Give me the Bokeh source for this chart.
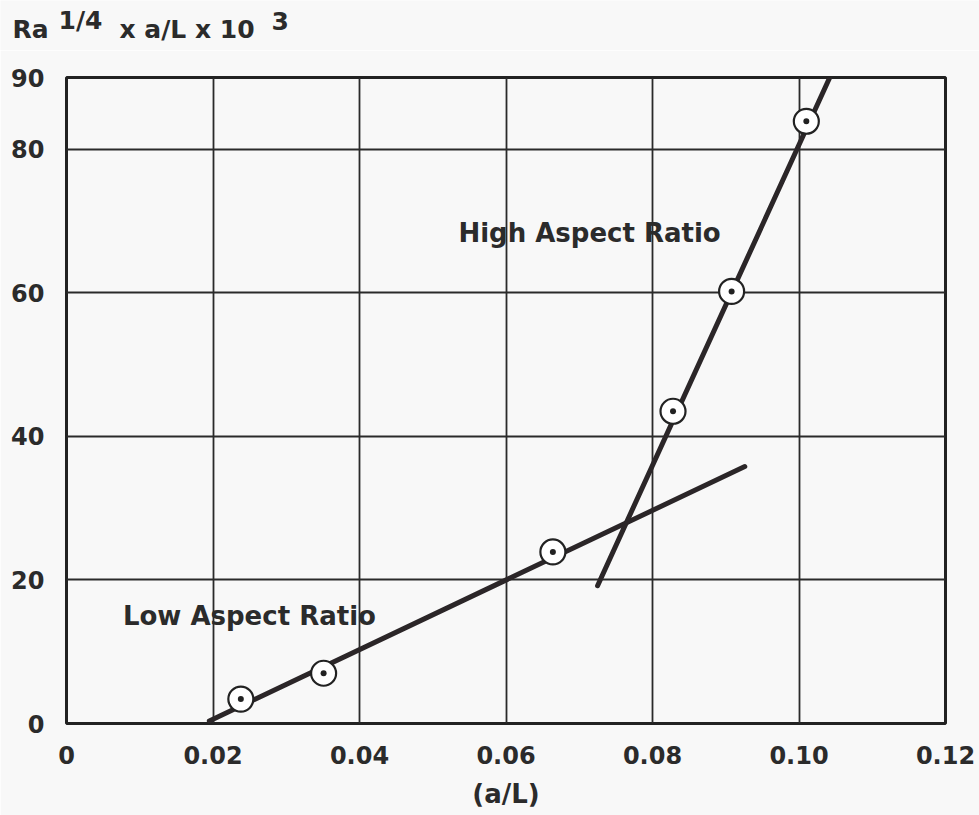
from bokeh.plotting import figure
from bokeh.models import FixedTicker, Label, Range1d
from bokeh.embed import file_html
from bokeh.resources import INLINE

# ---- data ----
pts_x = [0.0238, 0.0351, 0.0664, 0.0828, 0.0908, 0.1010]
pts_y = [3.4, 7.0, 23.9, 43.5, 60.2, 83.9]

low_fit_x = [0.0195, 0.0926]
low_fit_y = [0.35, 35.8]
high_fit_x = [0.0725, 0.1042]
high_fit_y = [19.2, 90.0]

x_ticks = [0, 0.02, 0.04, 0.06, 0.08, 0.10, 0.12]
x_tick_labels = ["0", "0.02", "0.04", "0.06", "0.08", "0.10", "0.12"]
y_ticks = [0, 20, 40, 60, 80, 90]
y_tick_labels = ["0", "20", "40", "60", "80", "90"]

y_title_parts = ["Ra", "1/4", "x a/L x 10", "3"]
x_title = "(a/L)"

FONT = "DejaVu Sans"
INK = "#2b2b2b"
LINE = "#2b2628"
BG = "#f8f8f8"
W = 979
HEADER_H = 50

# ---- header strip carrying the y-axis title with its superscripts ----
hdr = figure(width=W, height=HEADER_H, x_range=Range1d(0, W), y_range=Range1d(HEADER_H, 0),
             x_axis_type=None, y_axis_type=None, output_backend="svg", toolbar_location=None,
             min_border_left=0, min_border_right=0, min_border_top=0, min_border_bottom=0)
hdr.background_fill_color = BG
hdr.border_fill_color = BG
hdr.outline_line_color = None
hdr.xgrid.visible = False
hdr.ygrid.visible = False
title_pos = [(12, 29), (58, 20), (119, 29), (271, 20)]
for (tx, ty), txt in zip(title_pos, y_title_parts):
    hdr.add_layout(Label(x=tx, y=ty, text=txt, text_font=FONT, text_font_style="bold",
                         text_font_size="25px", text_color=INK, text_align="left",
                         text_baseline="alphabetic"))

# ---- main chart ----
p = figure(width=W, height=815 - HEADER_H, x_range=Range1d(0, 0.12), y_range=Range1d(0, 90),
           output_backend="svg", toolbar_location=None,
           min_border_left=66, min_border_right=34, min_border_top=27, min_border_bottom=92)
p.background_fill_color = BG
p.border_fill_color = BG
p.outline_line_color = "#222222"
p.outline_line_width = 3

for ax, ticks, labels in ((p.xaxis[0], x_ticks, x_tick_labels), (p.yaxis[0], y_ticks, y_tick_labels)):
    ax.ticker = FixedTicker(ticks=ticks)
    ax.major_label_overrides = {t: l for t, l in zip(ticks, labels)}
    ax.major_tick_in = 0
    ax.major_tick_out = 0
    ax.minor_tick_in = 0
    ax.minor_tick_out = 0
    ax.axis_line_color = None
    ax.major_label_text_font = FONT
    ax.major_label_text_font_style = "bold"
    ax.major_label_text_font_size = "24px"
    ax.major_label_text_color = INK
p.xaxis.major_label_standoff = 22
p.yaxis.major_label_standoff = 22

p.xaxis.axis_label = x_title
p.xaxis.axis_label_standoff = 12
p.xaxis.axis_label_text_font = FONT
p.xaxis.axis_label_text_font_style = "bold"
p.xaxis.axis_label_text_font_size = "26px"
p.xaxis.axis_label_text_color = INK

p.xgrid.ticker = FixedTicker(ticks=x_ticks)
p.ygrid.ticker = FixedTicker(ticks=y_ticks)
for g in (p.xgrid[0], p.ygrid[0]):
    g.grid_line_color = "#2a2a2a"
    g.grid_line_width = 1.8

# fitted lines
p.line(low_fit_x, low_fit_y, line_color=LINE, line_width=5, line_cap="round")
p.line(high_fit_x, high_fit_y, line_color=LINE, line_width=5, line_cap="round")

# data points: circle with centre dot
p.scatter(pts_x, pts_y, marker="circle", size=25, fill_color="white",
          line_color="#222222", line_width=2.2)
p.scatter(pts_x, pts_y, marker="circle", size=6, fill_color="#222222", line_color=None)

def lab(x, y, text):
    p.add_layout(Label(x=x, y=y, text=text, text_font=FONT, text_font_style="bold",
                       text_font_size="26px", text_color=INK, text_align="left",
                       text_baseline="alphabetic"))

lab(0.0535, 68.3, "High Aspect Ratio")
lab(0.0077, 15.0, "Low Aspect Ratio")

open("out.html", "w").write(file_html([hdr, p], INLINE))
